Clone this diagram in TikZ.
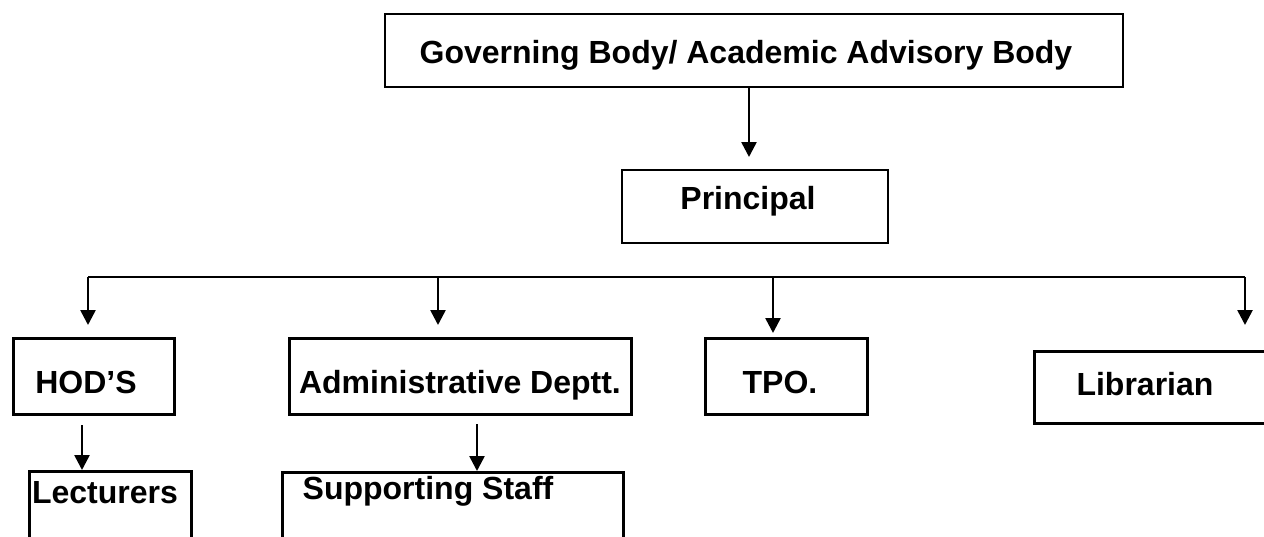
\documentclass[tikz,border=0pt]{standalone}
\usepackage{fontspec}
\setmainfont{Liberation Sans}
\usetikzlibrary{arrows.meta,calc}
\begin{document}
\begin{tikzpicture}[x=1pt,y=-1pt,
  thinbox/.style={draw=black,line width=1.8pt,rectangle,inner sep=0pt,anchor=north west},
  thickbox/.style={draw=black,line width=3.4pt,rectangle,inner sep=0pt,anchor=north west},
  lbl/.style={anchor=base,inner sep=0pt,font=\fontsize{32}{32}\selectfont\bfseries},
  arr/.style={line width=2.6pt,-{Triangle[width=15pt,length=15pt]}},
  bar/.style={line width=1.6pt}]
\useasboundingbox (0,0) rectangle (1264,536);
% boxes
\node[thinbox,minimum width=738pt,minimum height=73pt] (gov) at (384,13) {};
\node[thinbox,minimum width=266pt,minimum height=73pt] (prin) at (621,169) {};
\node[thickbox,minimum width=161pt,minimum height=76pt] (hod) at (12,337) {};
\node[thickbox,minimum width=342pt,minimum height=76pt] (adm) at (288,337) {};
\node[thickbox,minimum width=162pt,minimum height=76pt] (tpo) at (704,337) {};
\node[thickbox,minimum width=250pt,minimum height=72pt] (lib) at (1033,350) {};
\node[thickbox,minimum width=162pt,minimum height=90pt] (lect) at (28,470) {};
\node[thickbox,minimum width=341pt,minimum height=90pt] (supp) at (281,471) {};
% texts
\node[lbl] (tgov) at (746,63) {Governing Body/ Academic Advisory Body};
\node[lbl] (tprin) at (748,209) {Principal};
\node[lbl] (thod) at (86,393) {HOD’S};
\node[lbl] (tadm) at (460,393) {Administrative Deptt.};
\node[lbl] (ttpo) at (780,393) {TPO.};
\node[lbl] (tlib) at (1145,395) {Librarian};
\node[lbl] (tlect) at (105,503) {Lecturers};
\node[lbl] (tsupp) at (428,499) {Supporting Staff};
% bar coordinates
\coordinate (barL) at (88,277);
\coordinate (barA) at (438,277);
\coordinate (barT) at (773,277);
\coordinate (barR) at (1245,277);
\coordinate (gx) at (749,0);
\coordinate (hx) at (82,0);
\coordinate (ax) at (477,0);
% connectors
\draw[arr] (gov.south -| gx) -- ($(prin.north -| gx)+(0,-12)$);
\draw[bar] (barL) -- (barR);
\draw[arr] (barL) -- ($(hod.north -| barL)+(0,-12)$);
\draw[arr] (barA) -- ($(adm.north -| barA)+(0,-12)$);
\draw[arr] (barT) -- ($(tpo.north -| barT)+(0,-4)$);
\draw[arr] (barR) -- ($(lib.north -| barR)+(0,-25)$);
\draw[arr] ($(hod.south -| hx)+(0,9)$) -- (lect.north -| hx);
\draw[arr] ($(adm.south -| ax)+(0,8)$) -- (supp.north -| ax);
\end{tikzpicture}
\end{document}
